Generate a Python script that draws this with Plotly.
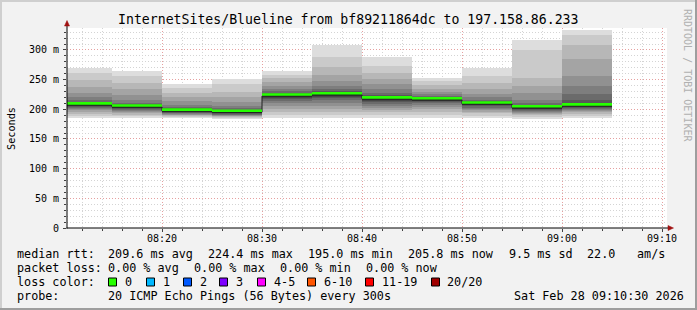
import numpy as np
import pandas as pd
import plotly.graph_objects as go

# ---------------- data ----------------
day = "2026-02-28"
slot_starts = ["08:10", "08:15", "08:20", "08:25", "08:30", "08:35",
               "08:40", "08:45", "08:50", "08:55", "09:00"]
step_seconds = 300
view_start = "2026-02-28 08:10:30"
view_end = "2026-02-28 09:10:30"

# 20 sorted ping RTTs (ms) per 5-minute slot
p_0810 = [186, 189, 192, 195, 198, 200, 202, 203.5, 205, 206.5, 208.5, 210, 212, 215, 220, 228, 238, 250, 262, 270]
p_0815 = [185, 188, 191, 193, 195, 197, 198.5, 200, 201.5, 203, 205, 206.5, 208.5, 211, 216, 224, 234, 245, 256, 264]
p_0820 = [185, 187, 189, 190, 191, 192, 193, 194, 195, 196, 198, 199.5, 201.5, 204, 208, 214, 221, 228, 236, 242]
p_0825 = [184, 186, 187, 188, 189, 190, 191, 192, 193, 194, 196, 197.5, 199.5, 202, 206, 212, 220, 230, 242, 251]
p_0830 = [186, 191, 196, 201, 206, 210, 214, 217, 219.5, 221.5, 223.5, 225.5, 228, 231, 235, 240, 246, 252, 258, 264]
p_0835 = [186, 191, 196, 201, 206, 211, 215, 219, 221.5, 223.5, 225.5, 228, 231, 235, 240, 248, 258, 272, 288, 308]
p_0840 = [185, 190, 195, 199, 203, 206, 209, 212, 214.5, 216.5, 218.5, 221, 224, 228, 234, 242, 251, 261, 273, 288]
p_0845 = [186, 191, 196, 200, 204, 207, 210, 212, 213.5, 215, 217, 218.5, 220.5, 223, 226, 230, 235, 241, 247, 253]
p_0850 = [185, 189, 193, 196, 199, 201, 203, 205, 206.5, 208, 210, 211.5, 213.5, 216, 220, 226, 234, 244, 256, 270]
p_0855 = [183, 187, 190, 192, 194, 196, 197.5, 199, 200.5, 201.5, 203.5, 205, 207, 210, 216, 228, 240, 252, 300, 316]
p_0900 = [185, 189, 192, 195, 197, 199, 200.5, 202, 203.5, 204.6, 207, 210, 215, 225, 240, 256, 285, 309, 326, 334]
ping_sets = [p_0810, p_0815, p_0820, p_0825, p_0830, p_0835,
             p_0840, p_0845, p_0850, p_0855, p_0900]

y_tick_vals = [0, 50, 100, 150, 200, 250, 300]
y_tick_text = ["0", "50 m", "100 m", "150 m", "200 m", "250 m", "300 m"]
y_max = 337

title_text = "InternetSites/Blueline from bf89211864dc to 197.158.86.233"
rtt_labels = ["median rtt:", "209.6 ms avg", "224.4 ms max", "195.0 ms min",
              "205.8 ms now", "9.5 ms sd", "22.0", "am/s"]
loss_labels = ["packet loss:", "0.00 % avg", "0.00 % max", "0.00 % min", "0.00 % now"]
loss_color_names = ["0", "1", "2", "3", "4-5", "6-10", "11-19", "20/20"]
loss_colors = ["#26ff00", "#00b8ff", "#0059ff", "#7e00ff", "#ff00ff", "#ff5500", "#ff0000", "#a10000"]
probe_labels = ["probe:", "20 ICMP Echo Pings (56 Bytes) every 300s", "Sat Feb 28 09:10:30 2026"]

# ---------------- geometry / style ----------------
W, H = 697, 310
PL, PR, PT, PB = 67, 667, 28, 228   # plot area in px
MONO = "DejaVu Sans Mono"


def px(x):
    return (x - PL) / (PR - PL)


def py(y):
    return (PB - y) / (PB - PT)


starts = pd.to_datetime([f"{day} {s}" for s in slot_starts])
step = pd.Timedelta(seconds=step_seconds)
centers = starts + step / 2
ends = starts + step
P = np.array(ping_sets, dtype=float)
medians = np.median(P, axis=1)
n = P.shape[1]
half = n // 2

fig = go.Figure()

# smoke bands (outer -> inner)
for k in range(half):
    c = int(190 / half * (half - (k + 1))) + 50
    col = "#%02x%02x%02x" % (c, c, c)
    lo = P[:, k]
    hi = P[:, n - 1 - k]
    fig.add_trace(go.Bar(
        x=centers, y=hi - lo, base=lo, width=step_seconds * 1000,
        marker=dict(color=col, line=dict(width=0)), hoverinfo="skip",
    ))

# median: dark step line + green strip
mx = list(starts) + [ends[-1]]
my = list(medians) + [medians[-1]]
fig.add_trace(go.Scatter(x=mx, y=my, mode="lines", line=dict(shape="hv", color="#202020", width=1),
                         hoverinfo="skip"))
ms_per_px = y_max / (PB - PT)
gx, gy = [], []
for s, e, m in zip(starts, ends, medians):
    gx += [s, e, None]
    gy += [m + 1.5 * ms_per_px, m + 1.5 * ms_per_px, None]
fig.add_trace(go.Scatter(x=gx, y=gy, mode="lines", line=dict(color=loss_colors[0], width=2.6),
                         hoverinfo="skip"))

major_grid = "#e6a0a0"
minor_grid = "#d4d4d4"
fig.update_layout(
    width=W, height=H,
    margin=dict(l=PL, r=W - PR, t=PT, b=H - PB, pad=0),
    paper_bgcolor="#f2f2f2", plot_bgcolor="#ffffff",
    showlegend=False, barmode="overlay", bargap=0,
    font=dict(family=MONO, color="#000000"),
    xaxis=dict(
        type="date", range=[view_start, view_end],
        dtick=600000, tickformat="%H:%M",
        showgrid=True, gridcolor=major_grid, griddash="1px,2px", gridwidth=1,
        minor=dict(dtick=120000, showgrid=True, gridcolor=minor_grid, griddash="1px,2px",
                   ticks="outside", ticklen=2, tickcolor="#404040"),
        ticks="outside", ticklen=3, tickcolor="#404040", ticklabelstandoff=-2,
        tickfont=dict(family=MONO, size=10, color="#000000"),
        showline=False, zeroline=False, fixedrange=True,
    ),
    yaxis=dict(
        range=[0, y_max], tickvals=y_tick_vals, ticktext=y_tick_text,
        showgrid=True, gridcolor=major_grid, griddash="1px,2px", gridwidth=1,
        minor=dict(dtick=10, showgrid=True, gridcolor=minor_grid, griddash="1px,2px",
                   ticks="outside", ticklen=2, tickcolor="#404040"),
        ticks="outside", ticklen=3, tickcolor="#404040", ticklabelstandoff=2,
        tickfont=dict(family=MONO, size=10, color="#000000"),
        showline=False, zeroline=False, fixedrange=True,
    ),
)

shapes = []
# frame
shapes.append(dict(type="rect", xref="paper", yref="paper", x0=px(0), x1=px(W), y0=py(0), y1=py(2),
                   fillcolor="#cfcfcf", line=dict(width=0), layer="above"))
shapes.append(dict(type="rect", xref="paper", yref="paper", x0=px(0), x1=px(2), y0=py(0), y1=py(H),
                   fillcolor="#cfcfcf", line=dict(width=0), layer="above"))
shapes.append(dict(type="rect", xref="paper", yref="paper", x0=px(0), x1=px(W), y0=py(H - 2), y1=py(H),
                   fillcolor="#9e9e9e", line=dict(width=0), layer="above"))
shapes.append(dict(type="rect", xref="paper", yref="paper", x0=px(W - 2), x1=px(W), y0=py(0), y1=py(H),
                   fillcolor="#9e9e9e", line=dict(width=0), layer="above"))
# axes
shapes.append(dict(type="line", xref="paper", yref="paper", x0=px(67), x1=px(67), y0=py(228.5), y1=py(23),
                   line=dict(color="#000000", width=1), layer="above"))
shapes.append(dict(type="line", xref="paper", yref="paper", x0=px(66.5), x1=px(670), y0=py(228), y1=py(228),
                   line=dict(color="#000000", width=1), layer="above"))
# arrows
shapes.append(dict(type="path", xref="paper", yref="paper",
                   path=f"M {px(64.5)},{py(26)} L {px(69.5)},{py(26)} L {px(67)},{py(20.5)} Z",
                   fillcolor="#a01010", line=dict(color="#a01010", width=0.5), layer="above"))
shapes.append(dict(type="path", xref="paper", yref="paper",
                   path=f"M {px(668)},{py(225.5)} L {px(668)},{py(230.5)} L {px(673.5)},{py(228)} Z",
                   fillcolor="#a01010", line=dict(color="#a01010", width=0.5), layer="above"))

ann = []


def text(x, y, s, size=11.75, anchor="left", color="#000000", angle=0):
    ann.append(dict(xref="paper", yref="paper", x=px(x), y=py(y), text=s.replace(" ", "\u00a0"),
                    showarrow=False, xanchor=anchor, yanchor="middle", textangle=angle,
                    font=dict(family=MONO, size=size, color=color), borderpad=0))


text(348.5, 19, title_text, size=13.2, anchor="center")
text(11, 129, "Seconds", size=10.2, anchor="center", angle=-90)
text(688, 75, "RRDTOOL / TOBI OETIKER", size=10, anchor="center", color="#b0b0b0", angle=90)

rtt_x = [16, 107, 207, 307, 407, 508, 586, 636]
for x, s in zip(rtt_x, rtt_labels):
    text(x, 254, s)
loss_x = [16, 107, 193, 279, 365]
for x, s in zip(loss_x, loss_labels):
    text(x, 268, s)
text(16, 282, "loss color:")
box_x = [108, 146, 183, 219, 257, 307, 365, 431]
for bx, name, col in zip(box_x, loss_color_names, loss_colors):
    shapes.append(dict(type="rect", xref="paper", yref="paper", x0=px(bx + 0.5), x1=px(bx + 8.5),
                       y0=py(278), y1=py(286), fillcolor=col, line=dict(color="#000000", width=1),
                       layer="above"))
    text(bx + 15.5, 282, name)
text(16, 296, probe_labels[0])
text(107, 296, probe_labels[1])
text(513, 296, probe_labels[2])

fig.update_layout(shapes=shapes, annotations=ann)
fig.write_html("out.html")
